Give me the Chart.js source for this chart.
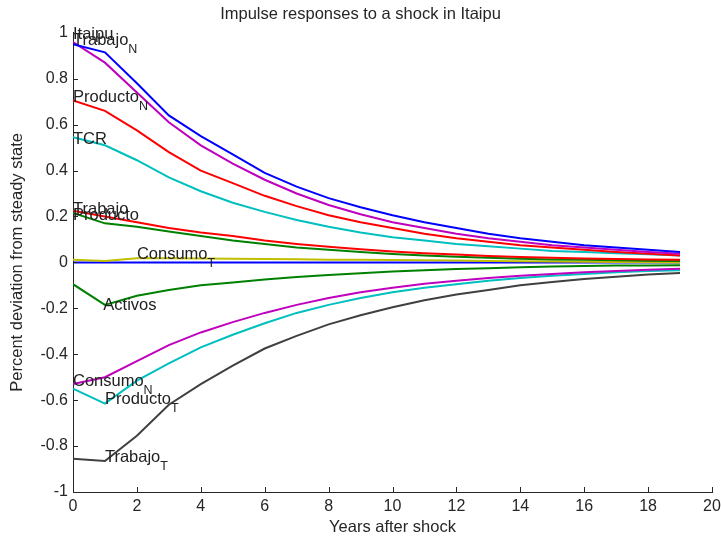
<!DOCTYPE html>
<html>
<head>
<meta charset="utf-8">
<script src="https://cdn.jsdelivr.net/npm/chart.js@4"></script>
<style>
  html, body { margin: 0; padding: 0; background: #fff; }
  #wrap { width: 721px; height: 538px; }
</style>
</head>
<body>
<div id="wrap"><canvas id="irfChart" width="721" height="538"></canvas></div>
<script>
// impulse responses to a shock in Itaipu
// years after the shock, one point per year
var years = [0,1,2,3,4,5,6,7,8,9,10,11,12,13,14,15,16,17,18,19];

// upper group
var trabajoN  = [0.95,0.915,0.78,0.64,0.55,0.47,0.39,0.33,0.28,0.24,0.205,0.175,0.15,0.125,0.105,0.09,0.075,0.065,0.055,0.045];
var itaipu    = [0.96,0.87,0.74,0.61,0.51,0.43,0.36,0.30,0.25,0.21,0.175,0.15,0.125,0.105,0.09,0.075,0.065,0.055,0.045,0.038];
var productoN = [0.705,0.66,0.575,0.48,0.40,0.345,0.29,0.245,0.205,0.175,0.15,0.125,0.105,0.09,0.075,0.065,0.055,0.045,0.038,0.03];
var tcr       = [0.545,0.51,0.445,0.37,0.31,0.26,0.22,0.185,0.155,0.13,0.11,0.095,0.08,0.07,0.06,0.05,0.045,0.04,0.035,0.03];
var trabajo   = [0.225,0.2,0.175,0.15,0.13,0.115,0.095,0.08,0.068,0.057,0.048,0.04,0.034,0.028,0.023,0.02,0.017,0.015,0.013,0.012];
var producto  = [0.215,0.17,0.155,0.135,0.115,0.095,0.08,0.065,0.055,0.045,0.037,0.03,0.025,0.02,0.016,0.013,0.011,0.009,0.007,0.006];
var consumoT  = [0.012,0.006,0.018,0.018,0.017,0.016,0.015,0.014,0.012,0.011,0.01,0.009,0.008,0.006,0.005,0.004,0.003,0.002,0.001,0.0];
var flat      = [0,0,0,0,0,0,0,0,0,0,0,0,0,0,0,0,0,0,0,0];

// lower group
var activos   = [-0.095,-0.185,-0.145,-0.12,-0.1,-0.088,-0.075,-0.064,-0.055,-0.047,-0.04,-0.034,-0.029,-0.025,-0.021,-0.018,-0.016,-0.014,-0.013,-0.012];
var consumoN  = [-0.53,-0.5,-0.43,-0.36,-0.305,-0.26,-0.22,-0.185,-0.155,-0.13,-0.11,-0.093,-0.08,-0.068,-0.058,-0.05,-0.043,-0.037,-0.032,-0.028];
var productoT = [-0.55,-0.615,-0.515,-0.44,-0.37,-0.315,-0.265,-0.22,-0.185,-0.155,-0.13,-0.11,-0.095,-0.08,-0.068,-0.058,-0.05,-0.043,-0.038,-0.034];
var trabajoT  = [-0.855,-0.865,-0.755,-0.62,-0.53,-0.45,-0.375,-0.32,-0.27,-0.23,-0.195,-0.165,-0.14,-0.12,-0.1,-0.085,-0.072,-0.062,-0.053,-0.046];

// text labels next to the lines (year, value at text baseline)
var labelText = ["Itaipu","Trabajo","Producto","TCR","Trabajo","Producto","Consumo","Activos","Consumo","Producto","Trabajo"];
var labelSub  = ["","N","N","","","","T","","N","T","T"];
var labelYear = [0,0,0,0,0,0,2,0.95,0,1,1];
var labelVal  = [0.972,0.945,0.698,0.517,0.21,0.183,0.014,-0.206,-0.537,-0.617,-0.871];

var FONT = "'Liberation Sans', Arial, sans-serif";
var INK = "#262626";

function pts(vals) {
  return years.map(function (t, i) { return {x: t, y: vals[i]}; });
}

function line(label, vals, color, order) {
  return {
    label: label,
    data: pts(vals),
    borderColor: color,
    backgroundColor: color,
    borderWidth: 2,
    pointRadius: 0,
    fill: false,
    tension: 0,
    order: order
  };
}

// inward tick marks, matlab style
var tickMarks = {
  id: "tickMarks",
  afterDatasetsDraw: function (chart) {
    var ctx = chart.ctx, x = chart.scales.x, y = chart.scales.y;
    var a = chart.chartArea;
    ctx.save();
    ctx.strokeStyle = INK;
    ctx.lineWidth = 1;
    ctx.beginPath();
    x.ticks.forEach(function (tk) {
      var px = Math.round(x.getPixelForValue(tk.value)) + 0.5;
      ctx.moveTo(px, a.bottom);
      ctx.lineTo(px, a.bottom - 5);
    });
    y.ticks.forEach(function (tk) {
      var py = Math.round(y.getPixelForValue(tk.value)) + 0.5;
      ctx.moveTo(a.left, py);
      ctx.lineTo(a.left + 5, py);
    });
    ctx.stroke();
    ctx.restore();
  }
};

// the series names written on the plot
var lineLabels = {
  id: "lineLabels",
  afterDatasetsDraw: function (chart) {
    var ctx = chart.ctx, x = chart.scales.x, y = chart.scales.y;
    ctx.save();
    ctx.fillStyle = "#222";
    ctx.textAlign = "left";
    ctx.textBaseline = "alphabetic";
    for (var i = 0; i < labelText.length; i++) {
      var px = x.getPixelForValue(labelYear[i]);
      var py = y.getPixelForValue(labelVal[i]);
      ctx.font = "16.5px " + FONT;
      ctx.fillText(labelText[i], px, py);
      if (labelSub[i]) {
        var w = ctx.measureText(labelText[i]).width;
        ctx.font = "12.5px " + FONT;
        ctx.fillText(labelSub[i], px + w, py + 8);
      }
    }
    ctx.restore();
  }
};

var irfChart = new Chart(document.getElementById("irfChart"), {
  type: "line",
  data: {
    datasets: [
      line("Trabajo N", trabajoN, "#0000ff", 1),
      line("Itaipu", itaipu, "#bf00bf", 2),
      line("Producto N", productoN, "#ff0000", 3),
      line("TCR", tcr, "#00bfbf", 4),
      line("Trabajo", trabajo, "#ff0000", 5),
      line("Producto", producto, "#008000", 6),
      line("Consumo T", consumoT, "#bfbf00", 7),
      line("", flat, "#0000ff", 8),
      line("Activos", activos, "#008000", 9),
      line("Consumo N", consumoN, "#bf00bf", 10),
      line("Producto T", productoT, "#00bfbf", 11),
      line("Trabajo T", trabajoT, "#404040", 12)
    ]
  },
  options: {
    responsive: false,
    animation: false,
    layout: { padding: { top: 0, right: 0, bottom: 0, left: 0 } },
    plugins: {
      legend: { display: false },
      tooltip: { enabled: false },
      title: {
        display: true,
        text: "Impulse responses to a shock in Itaipu",
        color: INK,
        font: { family: FONT, size: 16.5, weight: "normal" },
        padding: { top: 5, bottom: 8 }
      }
    },
    scales: {
      x: {
        type: "linear",
        min: 0,
        max: 20,
        grid: { display: false, drawTicks: false },
        border: { display: true, color: INK, width: 1 },
        ticks: { stepSize: 2, color: INK, padding: 5, font: { family: FONT, size: 16 }, maxRotation: 0 },
        title: {
          display: true,
          text: "Years after shock",
          color: INK,
          font: { family: FONT, size: 16.5 },
          padding: { top: 0, bottom: 1 }
        },
        afterFit: function (s) { s.height = 46; s.paddingRight = 9; }
      },
      y: {
        min: -1,
        max: 1,
        grid: { display: false, drawTicks: false },
        border: { display: true, color: INK, width: 1 },
        ticks: {
          stepSize: 0.2,
          color: INK,
          padding: 5,
          font: { family: FONT, size: 16 },
          callback: function (v) { return String(Number(v.toFixed(1))); }
        },
        title: {
          display: true,
          text: "Percent deviation from steady state",
          color: INK,
          font: { family: FONT, size: 16.5 },
          padding: { top: 8, bottom: 0 }
        },
        afterFit: function (s) { s.width = 73; }
      }
    }
  },
  plugins: [tickMarks, lineLabels]
});
</script>
</body>
</html>
